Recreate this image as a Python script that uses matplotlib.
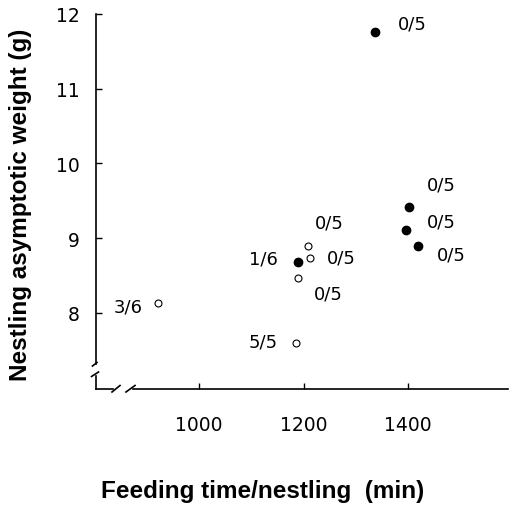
import matplotlib
matplotlib.use('Agg')
import matplotlib.pyplot as plt
import numpy as np

# datos
x_llenos = [1337, 1402, 1396, 1419, 1190]
y_llenos = [11.76, 9.42, 9.11, 8.90, 8.68]
x_vacios = [1209, 1212, 1190, 1186, 921]
y_vacios = [8.90, 8.74, 8.47, 7.59, 8.13]
etiquetas_llenos = ['0/5', '0/5', '0/5', '0/5', '1/6']
etiquetas_vacios = ['0/5', '0/5', '0/5', '5/5', '3/6']
xticks = [1000, 1200, 1400]
yticks = [8, 9, 10, 11, 12]

# desplazamientos de las etiquetas (pixeles) y alineacion
desp_llenos = [(23, 8, 'left'), (18, 22, 'left'), (21, 8, 'left'), (19, -9, 'left'), (-20, 4, 'right')]
desp_vacios = [(7, 23, 'left'), (17, 0, 'left'), (16, -16, 'left'), (-19, 2, 'right'), (-15, -3, 'right')]

fuente = ['DejaVu Sans']
fuente_eje = ['Liberation Sans']

W, H = 509, 510
fig = plt.figure(figsize=(W / 100, H / 100), dpi=100)
ax = fig.add_axes([96 / W, 1 - 390 / H, 412 / W, 375 / H])

ax.plot(x_llenos, y_llenos, 'o', color='black', markersize=6.0, clip_on=False)
ax.plot(x_vacios, y_vacios, 'o', markerfacecolor='white', markeredgecolor='black',
        markersize=5.0, markeredgewidth=0.8, clip_on=False)

for xs, ys, labs, desp in [(x_llenos, y_llenos, etiquetas_llenos, desp_llenos),
                           (x_vacios, y_vacios, etiquetas_vacios, desp_vacios)]:
    for x, y, t, (dx, dy, ha) in zip(xs, ys, labs, desp):
        ax.annotate(t, (x, y), xytext=(dx, dy), textcoords='offset pixels',
                    ha=ha, va='center', fontsize=13, family=fuente)

ax.set_xlim(803, 1591)
ax.set_ylim(6.98, 12)
ax.set_xticks(xticks)
ax.set_yticks(yticks)
ax.set_xticklabels([str(v) for v in xticks], family=fuente, fontsize=13.5)
ax.set_yticklabels([str(v) for v in yticks], family=fuente, fontsize=13.5)
ax.tick_params(axis='x', direction='in', length=4.3, width=1.0)
ax.tick_params(axis='y', direction='in', length=4.3, width=1.0, pad=12)
ax.xaxis.set_tick_params(pad=19)

for s in ax.spines.values():
    s.set_visible(False)

# ejes con cortes, en fraccion de ejes
def fx(px):
    return (px - 96) / 412

def fy(py):
    return (390 - py) / 375

kw = dict(transform=ax.transAxes, color='black', lw=1.2, clip_on=False)
ax.plot([0, 0], [fy(15), fy(365)], **kw)
ax.plot([0, 0], [fy(377), fy(390)], **kw)
ax.plot([fx(92.5), fx(97)], [fy(367), fy(363.5)], **kw)
ax.plot([fx(91.5), fx(98.5)], [fy(377.5), fy(373)], **kw)
ax.plot([0, fx(113)], [0, 0], **kw)
ax.plot([fx(133), 1], [0, 0], **kw)
ax.plot([fx(112), fx(120)], [fy(393), fy(386.5)], **kw)
ax.plot([fx(126), fx(135)], [fy(393), fy(386.5)], **kw)

fig.text(21 / W, 1 - 205 / H, 'Nestling asymptotic weight (g)', rotation=90,
         ha='center', va='center', fontsize=17.5, fontweight='bold', family=fuente_eje)
fig.text(263 / W, 1 - 492 / H, 'Feeding time/nestling  (min)',
         ha='center', va='center', fontsize=17.5, fontweight='bold', family=fuente_eje)

fig.savefig('out.png', dpi=100)
